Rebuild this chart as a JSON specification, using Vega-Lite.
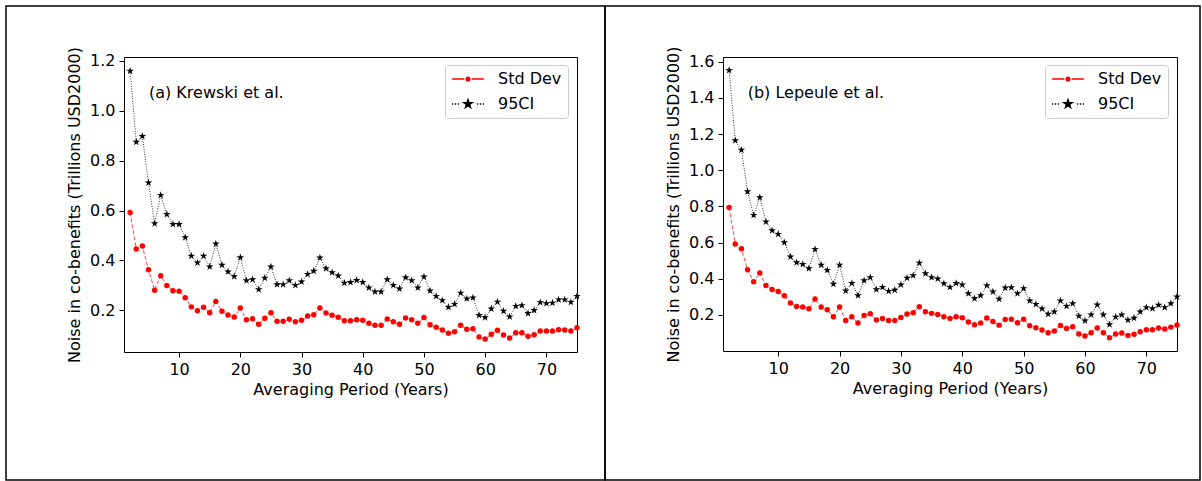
{
  "$schema": "https://vega.github.io/schema/vega-lite/v6.json",
  "background": "white",
  "padding": {"left": 5, "top": 5, "right": 0, "bottom": 0},
  "spacing": 0,
  "bounds": "flush",
  "resolve": {"scale": {"fill": "independent", "stroke": "independent", "shape": "independent"}, "legend": {"fill": "independent", "stroke": "independent", "shape": "independent"}},
  "config": {
    "font": "DejaVu Sans",
    "view": {"stroke": "black", "strokeWidth": 1.5},
    "axis": {"domainColor": "black", "domainWidth": 1, "tickColor": "black", "tickSize": 5, "tickWidth": 1, "labelColor": "black", "labelFontSize": 16, "labelFont": "DejaVu Sans", "titleFont": "DejaVu Sans", "titleFontSize": 16, "titleFontWeight": "normal", "titleColor": "black", "grid": false, "labelPadding": 4, "labelFlush": false, "labelOverlap": false},
    "legend": {"labelFont": "DejaVu Sans"}
  },
  "datasets": {
    "a": [
      {"year":2,"sd":0.592,"ci":1.16},{"year":3,"sd":0.446,"ci":0.875},{"year":4,"sd":0.458,"ci":0.898},{"year":5,"sd":0.363,"ci":0.712},{"year":6,"sd":0.281,"ci":0.548},{"year":7,"sd":0.339,"ci":0.662},{"year":8,"sd":0.300,"ci":0.585},{"year":9,"sd":0.279,"ci":0.545},{"year":10,"sd":0.277,"ci":0.545},{"year":11,"sd":0.251,"ci":0.492},{"year":12,"sd":0.214,"ci":0.418},{"year":13,"sd":0.198,"ci":0.391},{"year":14,"sd":0.212,"ci":0.418},{"year":15,"sd":0.190,"ci":0.375},{"year":16,"sd":0.236,"ci":0.467},{"year":17,"sd":0.196,"ci":0.382},{"year":18,"sd":0.181,"ci":0.355},{"year":19,"sd":0.173,"ci":0.336},{"year":20,"sd":0.209,"ci":0.412},{"year":21,"sd":0.162,"ci":0.320},{"year":22,"sd":0.166,"ci":0.324},{"year":23,"sd":0.144,"ci":0.284},{"year":24,"sd":0.168,"ci":0.330},{"year":25,"sd":0.190,"ci":0.375},{"year":26,"sd":0.156,"ci":0.304},{"year":27,"sd":0.156,"ci":0.304},{"year":28,"sd":0.164,"ci":0.320},{"year":29,"sd":0.154,"ci":0.301},{"year":30,"sd":0.160,"ci":0.315},{"year":31,"sd":0.177,"ci":0.345},{"year":32,"sd":0.182,"ci":0.358},{"year":33,"sd":0.209,"ci":0.411},{"year":34,"sd":0.189,"ci":0.368},{"year":35,"sd":0.180,"ci":0.352},{"year":36,"sd":0.172,"ci":0.339},{"year":37,"sd":0.158,"ci":0.310},{"year":38,"sd":0.158,"ci":0.313},{"year":39,"sd":0.162,"ci":0.321},{"year":40,"sd":0.160,"ci":0.313},{"year":41,"sd":0.148,"ci":0.291},{"year":42,"sd":0.140,"ci":0.275},{"year":43,"sd":0.140,"ci":0.275},{"year":44,"sd":0.165,"ci":0.324},{"year":45,"sd":0.154,"ci":0.301},{"year":46,"sd":0.144,"ci":0.287},{"year":47,"sd":0.169,"ci":0.332},{"year":48,"sd":0.162,"ci":0.320},{"year":49,"sd":0.148,"ci":0.291},{"year":50,"sd":0.171,"ci":0.335},{"year":51,"sd":0.142,"ci":0.279},{"year":52,"sd":0.132,"ci":0.257},{"year":53,"sd":0.121,"ci":0.240},{"year":54,"sd":0.108,"ci":0.213},{"year":55,"sd":0.114,"ci":0.225},{"year":56,"sd":0.140,"ci":0.270},{"year":57,"sd":0.124,"ci":0.247},{"year":58,"sd":0.126,"ci":0.251},{"year":59,"sd":0.093,"ci":0.180},{"year":60,"sd":0.085,"ci":0.171},{"year":61,"sd":0.104,"ci":0.206},{"year":62,"sd":0.120,"ci":0.234},{"year":63,"sd":0.101,"ci":0.197},{"year":64,"sd":0.089,"ci":0.174},{"year":65,"sd":0.110,"ci":0.217},{"year":66,"sd":0.110,"ci":0.220},{"year":67,"sd":0.096,"ci":0.188},{"year":68,"sd":0.102,"ci":0.200},{"year":69,"sd":0.117,"ci":0.232},{"year":70,"sd":0.117,"ci":0.228},{"year":71,"sd":0.117,"ci":0.230},{"year":72,"sd":0.122,"ci":0.243},{"year":73,"sd":0.121,"ci":0.243},{"year":74,"sd":0.117,"ci":0.233},{"year":75,"sd":0.130,"ci":0.257}
    ],
    "b": [
      {"year":2,"sd":0.794,"ci":1.553},{"year":3,"sd":0.592,"ci":1.164},{"year":4,"sd":0.566,"ci":1.112},{"year":5,"sd":0.450,"ci":0.882},{"year":6,"sd":0.384,"ci":0.752},{"year":7,"sd":0.432,"ci":0.849},{"year":8,"sd":0.363,"ci":0.715},{"year":9,"sd":0.341,"ci":0.667},{"year":10,"sd":0.330,"ci":0.647},{"year":11,"sd":0.306,"ci":0.601},{"year":12,"sd":0.266,"ci":0.522},{"year":13,"sd":0.247,"ci":0.490},{"year":14,"sd":0.244,"ci":0.481},{"year":15,"sd":0.234,"ci":0.457},{"year":16,"sd":0.288,"ci":0.564},{"year":17,"sd":0.244,"ci":0.476},{"year":18,"sd":0.229,"ci":0.448},{"year":19,"sd":0.190,"ci":0.371},{"year":20,"sd":0.244,"ci":0.477},{"year":21,"sd":0.170,"ci":0.334},{"year":22,"sd":0.190,"ci":0.376},{"year":23,"sd":0.156,"ci":0.308},{"year":24,"sd":0.197,"ci":0.391},{"year":25,"sd":0.207,"ci":0.408},{"year":26,"sd":0.172,"ci":0.341},{"year":27,"sd":0.181,"ci":0.354},{"year":28,"sd":0.170,"ci":0.332},{"year":29,"sd":0.170,"ci":0.338},{"year":30,"sd":0.186,"ci":0.367},{"year":31,"sd":0.205,"ci":0.404},{"year":32,"sd":0.212,"ci":0.418},{"year":33,"sd":0.246,"ci":0.488},{"year":34,"sd":0.218,"ci":0.429},{"year":35,"sd":0.209,"ci":0.408},{"year":36,"sd":0.203,"ci":0.400},{"year":37,"sd":0.190,"ci":0.374},{"year":38,"sd":0.181,"ci":0.354},{"year":39,"sd":0.190,"ci":0.376},{"year":40,"sd":0.185,"ci":0.367},{"year":41,"sd":0.161,"ci":0.319},{"year":42,"sd":0.146,"ci":0.291},{"year":43,"sd":0.156,"ci":0.308},{"year":44,"sd":0.183,"ci":0.363},{"year":45,"sd":0.164,"ci":0.328},{"year":46,"sd":0.144,"ci":0.288},{"year":47,"sd":0.175,"ci":0.350},{"year":48,"sd":0.177,"ci":0.352},{"year":49,"sd":0.157,"ci":0.319},{"year":50,"sd":0.177,"ci":0.347},{"year":51,"sd":0.141,"ci":0.279},{"year":52,"sd":0.130,"ci":0.260},{"year":53,"sd":0.117,"ci":0.234},{"year":54,"sd":0.102,"ci":0.205},{"year":55,"sd":0.111,"ci":0.218},{"year":56,"sd":0.142,"ci":0.279},{"year":57,"sd":0.126,"ci":0.249},{"year":58,"sd":0.135,"ci":0.264},{"year":59,"sd":0.095,"ci":0.194},{"year":60,"sd":0.084,"ci":0.168},{"year":61,"sd":0.102,"ci":0.201},{"year":62,"sd":0.128,"ci":0.257},{"year":63,"sd":0.102,"ci":0.201},{"year":64,"sd":0.074,"ci":0.148},{"year":65,"sd":0.095,"ci":0.189},{"year":66,"sd":0.100,"ci":0.201},{"year":67,"sd":0.087,"ci":0.172},{"year":68,"sd":0.093,"ci":0.183},{"year":69,"sd":0.107,"ci":0.218},{"year":70,"sd":0.118,"ci":0.242},{"year":71,"sd":0.118,"ci":0.236},{"year":72,"sd":0.128,"ci":0.255},{"year":73,"sd":0.122,"ci":0.242},{"year":74,"sd":0.133,"ci":0.264},{"year":75,"sd":0.145,"ci":0.301}
    ]
  },
  "hconcat": [
    {
      "width": 599,
      "height": 474,
      "resolve": {"axis": {"x": "independent", "y": "independent"}},
      "layer": [
        {
          "data": {"name": "a"},
          "mark": {"type": "line", "color": "#ff0000", "strokeWidth": 0.9, "strokeDash": [4, 2], "opacity": 0.8},
          "encoding": {
            "x": {"field": "year", "type": "quantitative", "scale": {"domain": [1, 75], "range": [118, 571], "nice": false, "zero": false}, "axis": {"orient": "bottom", "offset": -128, "values": [10, 20, 30, 40, 50, 60, 70], "format": "d", "title": "Averaging Period (Years)", "titlePadding": 4}},
            "y": {"field": "sd", "type": "quantitative", "scale": {"domain": [0.033, 1.216], "range": [346, 51], "nice": false, "zero": false}, "axis": {"orient": "left", "offset": -118, "values": [0.2, 0.4, 0.6, 0.8, 1.0, 1.2], "format": ".1f", "title": "Noise in co-benefits (Trillions USD2000)", "titlePadding": 7}}
          }
        },
        {
          "data": {"name": "a"},
          "mark": {"type": "point", "shape": "circle", "filled": true, "color": "#ff0000", "size": 30, "opacity": 1},
          "encoding": {
            "x": {"field": "year", "type": "quantitative", "axis": null},
            "y": {"field": "sd", "type": "quantitative", "axis": null}
          }
        },
        {
          "data": {"name": "a"},
          "mark": {"type": "line", "color": "black", "strokeWidth": 0.8, "strokeDash": [1, 1.5]},
          "encoding": {
            "x": {"field": "year", "type": "quantitative", "axis": {"orient": "top", "offset": -51, "labels": false, "ticks": false, "title": null}},
            "y": {"field": "ci", "type": "quantitative", "axis": {"orient": "right", "offset": -28, "labels": false, "ticks": false, "title": null}}
          }
        },
        {
          "data": {"name": "a"},
          "mark": {"type": "point", "shape": "M0,-1L0.2245,-0.309L0.951,-0.309L0.363,0.118L0.588,0.809L0,0.382L-0.588,0.809L-0.363,0.118L-0.951,-0.309L-0.2245,-0.309Z", "filled": true, "color": "black", "size": 64, "opacity": 1},
          "encoding": {
            "x": {"field": "year", "type": "quantitative", "axis": null},
            "y": {"field": "ci", "type": "quantitative", "axis": null}
          }
        },
        {
          "data": {"values": [{"year": 5.08, "value": 1.072, "label": "(a) Krewski et al."}]},
          "mark": {"type": "text", "align": "left", "baseline": "middle", "fontSize": 16, "font": "DejaVu Sans", "color": "black"},
          "encoding": {
            "x": {"field": "year", "type": "quantitative", "axis": null},
            "y": {"field": "value", "type": "quantitative", "axis": null},
            "text": {"field": "label"}
          }
        },
        {
          "data": {"values": [{"series": "Std Dev"}, {"series": "95CI"}]},
          "mark": {"type": "point", "opacity": 0, "size": 1024, "filled": true},
          "encoding": {
            "fill": {"field": "series", "type": "nominal", "scale": {"domain": ["Std Dev", "95CI"], "range": ["#ff0000", "black"]}, "legend": {"title": null, "orient": "none", "legendX": 439, "legendY": 59, "clipHeight": 16, "symbolSize": 1024, "symbolStrokeWidth": 1.3, "labelFontSize": 16, "labelColor": "black", "labelOffset": 13, "rowPadding": 9, "padding": 6, "strokeColor": "#cccccc", "fillColor": "white", "cornerRadius": 3}},
            "stroke": {"field": "series", "type": "nominal", "scale": {"domain": ["Std Dev", "95CI"], "range": ["#ff0000", "black"]}, "legend": {"title": null, "orient": "none", "legendX": 439, "legendY": 59, "clipHeight": 16, "symbolSize": 1024, "symbolStrokeWidth": 1.3, "labelFontSize": 16, "labelColor": "black", "labelOffset": 13, "rowPadding": 9, "padding": 6, "strokeColor": "#cccccc", "fillColor": "white", "cornerRadius": 3}},
            "shape": {"field": "series", "type": "nominal", "scale": {"domain": ["Std Dev", "95CI"], "range": ["M-1,0L-0.23,0M0.23,0L1,0M-0.12,0A0.12,0.12,0,1,1,0.12,0A0.12,0.12,0,1,1,-0.12,0M-0.05,0A0.05,0.05,0,1,1,0.05,0A0.05,0.05,0,1,1,-0.05,0", "M-1,0L-0.92,0M-0.82,0L-0.74,0M-0.64,0L-0.56,0M0.56,0L0.64,0M0.74,0L0.82,0M0.92,0L1,0M0,-0.28L0.063,-0.0865L0.266,-0.0865L0.1016,0.033L0.165,0.2265L0,0.107L-0.165,0.2265L-0.1016,0.033L-0.266,-0.0865L-0.063,-0.0865ZM0,-0.18L0.0404,-0.0556L0.1712,-0.0556L0.0654,0.0212L0.1058,0.1456L0,0.0688L-0.1058,0.1456L-0.0654,0.0212L-0.1712,-0.0556L-0.0404,-0.0556ZM0,-0.09L0.0202,-0.0278L0.0856,-0.0278L0.0327,0.0106L0.0529,0.0728L0,0.0344L-0.0529,0.0728L-0.0327,0.0106L-0.0856,-0.0278L-0.0202,-0.0278Z"]}, "legend": {"title": null, "orient": "none", "legendX": 439, "legendY": 59, "clipHeight": 16, "symbolSize": 1024, "symbolStrokeWidth": 1.3, "labelFontSize": 16, "labelColor": "black", "labelOffset": 13, "rowPadding": 9, "padding": 6, "strokeColor": "#cccccc", "fillColor": "white", "cornerRadius": 3}}
          }
        }
      ]
    },
    {
      "width": 595,
      "height": 474,
      "resolve": {"axis": {"x": "independent", "y": "independent"}},
      "layer": [
        {
          "data": {"name": "b"},
          "mark": {"type": "line", "color": "#ff0000", "strokeWidth": 0.9, "strokeDash": [4, 2], "opacity": 0.8},
          "encoding": {
            "x": {"field": "year", "type": "quantitative", "scale": {"domain": [1, 75], "range": [118, 572], "nice": false, "zero": false}, "axis": {"orient": "bottom", "offset": -129, "values": [10, 20, 30, 40, 50, 60, 70], "format": "d", "title": "Averaging Period (Years)", "titlePadding": 4}},
            "y": {"field": "sd", "type": "quantitative", "scale": {"domain": [0.001, 1.626], "range": [345, 51], "nice": false, "zero": false}, "axis": {"orient": "left", "offset": -118, "values": [0.2, 0.4, 0.6, 0.8, 1.0, 1.2, 1.4, 1.6], "format": ".1f", "title": "Noise in co-benefits (Trillions USD2000)", "titlePadding": 7}}
          }
        },
        {
          "data": {"name": "b"},
          "mark": {"type": "point", "shape": "circle", "filled": true, "color": "#ff0000", "size": 30, "opacity": 1},
          "encoding": {
            "x": {"field": "year", "type": "quantitative", "axis": null},
            "y": {"field": "sd", "type": "quantitative", "axis": null}
          }
        },
        {
          "data": {"name": "b"},
          "mark": {"type": "line", "color": "black", "strokeWidth": 0.8, "strokeDash": [1, 1.5]},
          "encoding": {
            "x": {"field": "year", "type": "quantitative", "axis": {"orient": "top", "offset": -51, "labels": false, "ticks": false, "title": null}},
            "y": {"field": "ci", "type": "quantitative", "axis": {"orient": "right", "offset": -23, "labels": false, "ticks": false, "title": null}}
          }
        },
        {
          "data": {"name": "b"},
          "mark": {"type": "point", "shape": "M0,-1L0.2245,-0.309L0.951,-0.309L0.363,0.118L0.588,0.809L0,0.382L-0.588,0.809L-0.363,0.118L-0.951,-0.309L-0.2245,-0.309Z", "filled": true, "color": "black", "size": 64, "opacity": 1},
          "encoding": {
            "x": {"field": "year", "type": "quantitative", "axis": null},
            "y": {"field": "ci", "type": "quantitative", "axis": null}
          }
        },
        {
          "data": {"values": [{"year": 5.03, "value": 1.429, "label": "(b) Lepeule et al."}]},
          "mark": {"type": "text", "align": "left", "baseline": "middle", "fontSize": 16, "font": "DejaVu Sans", "color": "black"},
          "encoding": {
            "x": {"field": "year", "type": "quantitative", "axis": null},
            "y": {"field": "value", "type": "quantitative", "axis": null},
            "text": {"field": "label"}
          }
        },
        {
          "data": {"values": [{"series": "Std Dev"}, {"series": "95CI"}]},
          "mark": {"type": "point", "opacity": 0, "size": 1024, "filled": true},
          "encoding": {
            "fill": {"field": "series", "type": "nominal", "scale": {"domain": ["Std Dev", "95CI"], "range": ["#ff0000", "black"]}, "legend": {"title": null, "orient": "none", "legendX": 440, "legendY": 59, "clipHeight": 16, "symbolSize": 1024, "symbolStrokeWidth": 1.3, "labelFontSize": 16, "labelColor": "black", "labelOffset": 13, "rowPadding": 9, "padding": 6, "strokeColor": "#cccccc", "fillColor": "white", "cornerRadius": 3}},
            "stroke": {"field": "series", "type": "nominal", "scale": {"domain": ["Std Dev", "95CI"], "range": ["#ff0000", "black"]}, "legend": {"title": null, "orient": "none", "legendX": 440, "legendY": 59, "clipHeight": 16, "symbolSize": 1024, "symbolStrokeWidth": 1.3, "labelFontSize": 16, "labelColor": "black", "labelOffset": 13, "rowPadding": 9, "padding": 6, "strokeColor": "#cccccc", "fillColor": "white", "cornerRadius": 3}},
            "shape": {"field": "series", "type": "nominal", "scale": {"domain": ["Std Dev", "95CI"], "range": ["M-1,0L-0.23,0M0.23,0L1,0M-0.12,0A0.12,0.12,0,1,1,0.12,0A0.12,0.12,0,1,1,-0.12,0M-0.05,0A0.05,0.05,0,1,1,0.05,0A0.05,0.05,0,1,1,-0.05,0", "M-1,0L-0.92,0M-0.82,0L-0.74,0M-0.64,0L-0.56,0M0.56,0L0.64,0M0.74,0L0.82,0M0.92,0L1,0M0,-0.28L0.063,-0.0865L0.266,-0.0865L0.1016,0.033L0.165,0.2265L0,0.107L-0.165,0.2265L-0.1016,0.033L-0.266,-0.0865L-0.063,-0.0865ZM0,-0.18L0.0404,-0.0556L0.1712,-0.0556L0.0654,0.0212L0.1058,0.1456L0,0.0688L-0.1058,0.1456L-0.0654,0.0212L-0.1712,-0.0556L-0.0404,-0.0556ZM0,-0.09L0.0202,-0.0278L0.0856,-0.0278L0.0327,0.0106L0.0529,0.0728L0,0.0344L-0.0529,0.0728L-0.0327,0.0106L-0.0856,-0.0278L-0.0202,-0.0278Z"]}, "legend": {"title": null, "orient": "none", "legendX": 440, "legendY": 59, "clipHeight": 16, "symbolSize": 1024, "symbolStrokeWidth": 1.3, "labelFontSize": 16, "labelColor": "black", "labelOffset": 13, "rowPadding": 9, "padding": 6, "strokeColor": "#cccccc", "fillColor": "white", "cornerRadius": 3}}
          }
        }
      ]
    }
  ]
}
